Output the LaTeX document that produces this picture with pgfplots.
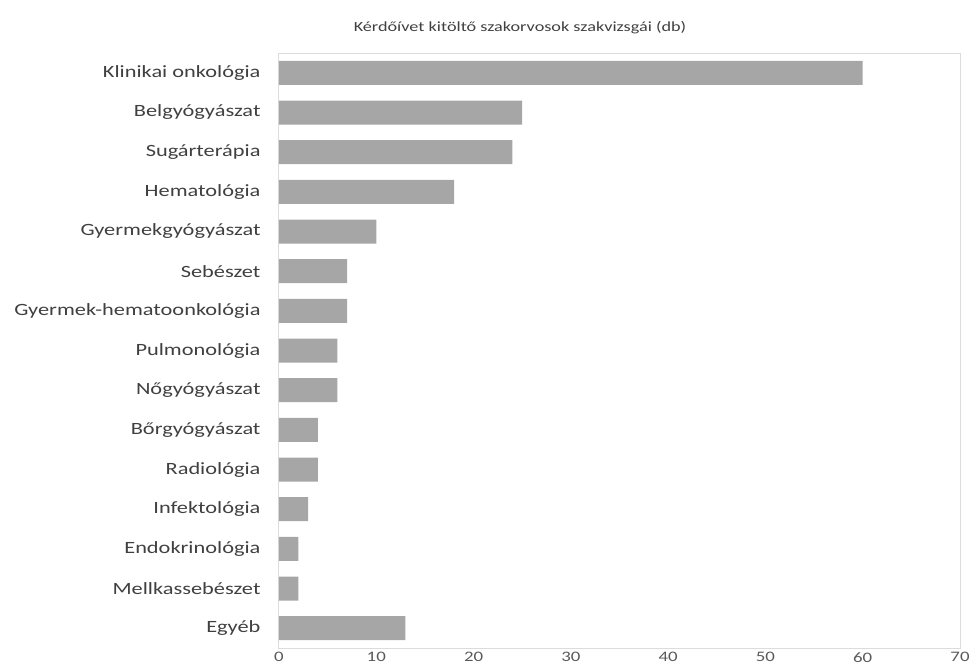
\documentclass[border=0pt]{standalone}
\usepackage{pgfplots}
\pgfplotsset{compat=1.18}
\usepackage{fontspec}
\setmainfont{Carlito}[FakeStretch=1.3]
\definecolor{bargray}{HTML}{A6A6A6}
\definecolor{framegray}{HTML}{DCDCDC}
\definecolor{labelgray}{HTML}{404040}
\definecolor{tickgray}{HTML}{595959}
\begin{document}
\begin{tikzpicture}[x=1pt,y=1pt]
\useasboundingbox (0,0) rectangle (974,670);
\begin{axis}[
  at={(279pt,22pt)}, anchor=south west,
  scale only axis, width=681pt, height=595pt,
  xbar, bar width=24pt,
  xmin=0, xmax=70, xtick={0,10,...,70},
  ymin=-0.5, ymax=14.5, y dir=reverse,
  ytick={0,...,14},
  yticklabels={Klinikai onkológia, Belgyógyászat, Sugárterápia, Hematológia,
    Gyermekgyógyászat, Sebészet, Gyermek-hematoonkológia, Pulmonológia,
    Nőgyógyászat, Bőrgyógyászat, Radiológia, Infektológia, Endokrinológia,
    Mellkassebészet, Egyéb},
  axis line style={framegray, line width=1pt},
  major tick length=0pt,
  /pgf/number format/assume math mode=true,
  xticklabel style={font=\fontsize{14.5}{16}\selectfont, text=tickgray, yshift=-1pt},
  yticklabel style={font=\fontsize{17.2}{19}\selectfont, text=labelgray, xshift=-15pt},
]
\addplot[fill=bargray, draw=none] coordinates {
  (60,0) (25,1) (24,2) (18,3) (10,4) (7,5) (7,6) (6,7)
  (6,8) (4,9) (4,10) (3,11) (2,12) (2,13) (13,14)
};
\end{axis}
\node[font=\fontsize{14}{16}\selectfont, text=labelgray] at (520,642)
  {Kérdőívet kitöltő szakorvosok szakvizsgái (db)};
\end{tikzpicture}
\end{document}
